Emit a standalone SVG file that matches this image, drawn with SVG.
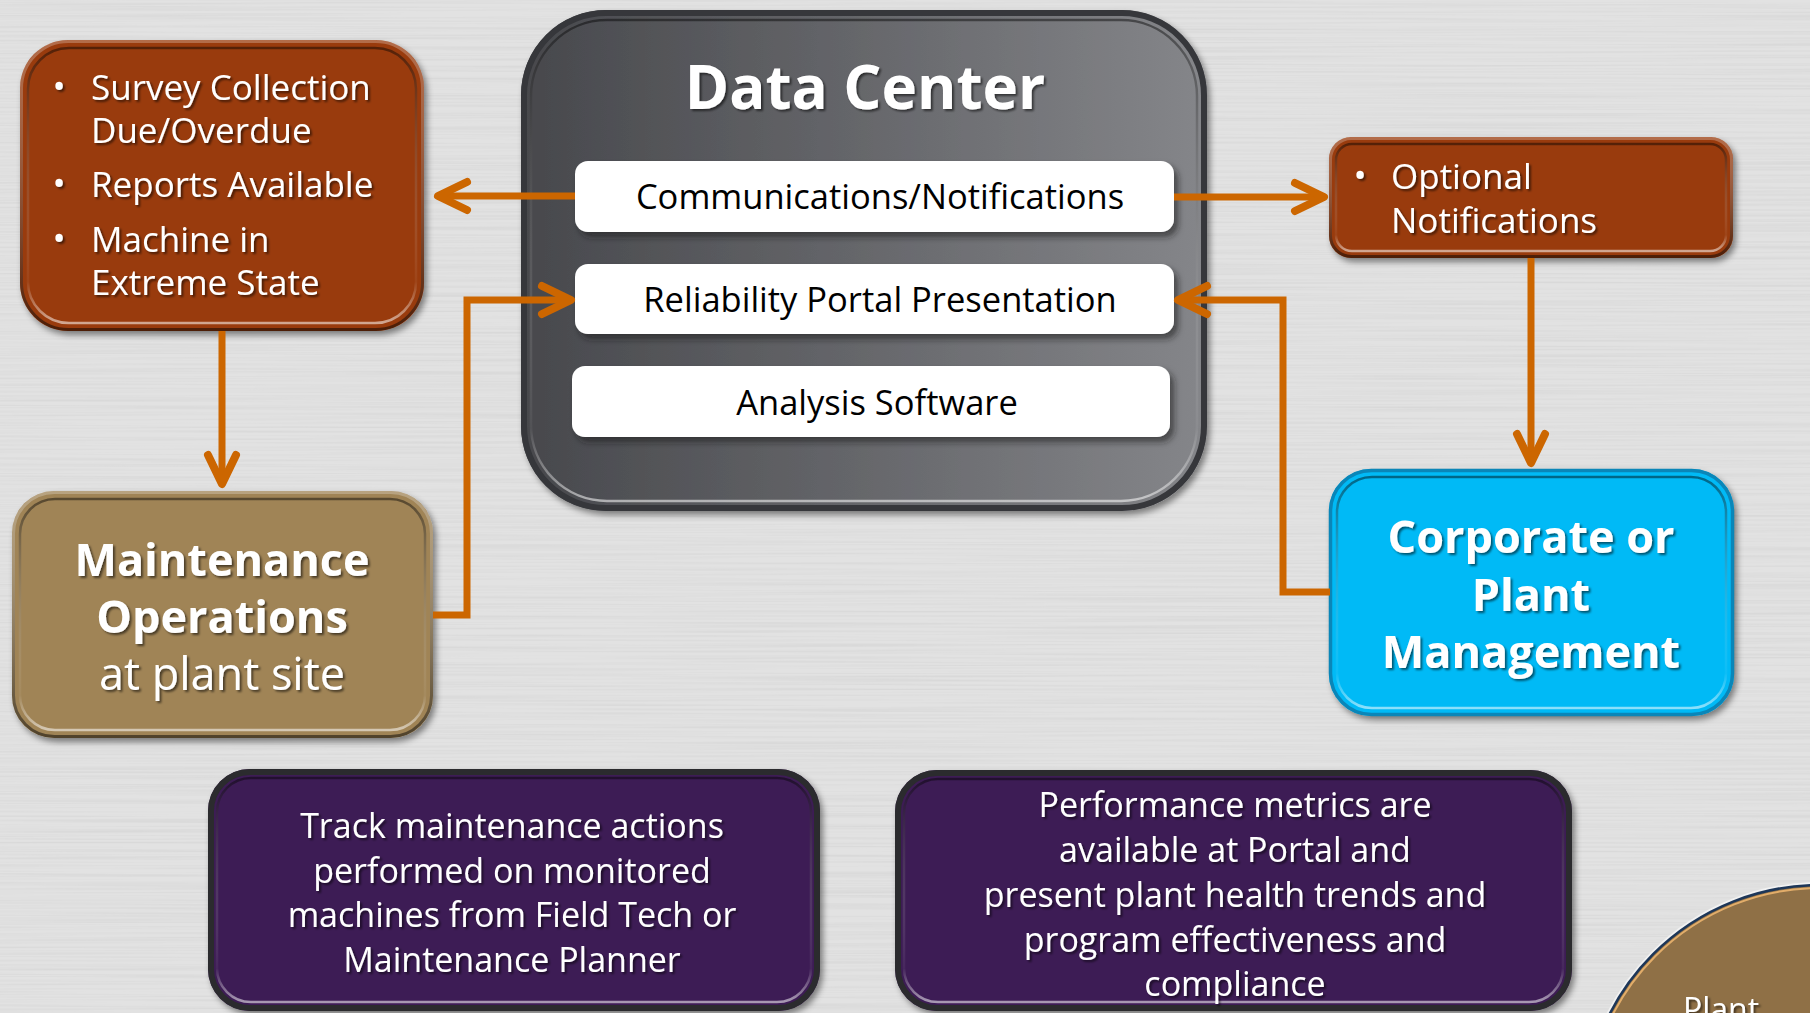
<svg xmlns="http://www.w3.org/2000/svg" width="1810" height="1013" viewBox="0 0 1810 1013">
<defs>
<style>
.t{font-family:"Open Sans","Noto Sans","DejaVu Sans",sans-serif;fill:#fff;}
.b{font-weight:bold;}
.dk{font-family:"Open Sans","Noto Sans","DejaVu Sans",sans-serif;fill:#000;font-size:34.5px;text-anchor:middle;}
.mid{text-anchor:middle;}
.conn{fill:none;stroke:#cc6600;stroke-width:7;marker-end:url(#chev);}
.wbox{fill:#fff;filter:url(#wsh);}
</style>
<filter id="brush" x="0" y="0" width="100%" height="100%">
<feTurbulence type="fractalNoise" baseFrequency="0.003 0.45" numOctaves="3" seed="7"/>
<feColorMatrix type="matrix" values="0 0 0 0 0.6  0 0 0 0 0.6  0 0 0 0 0.6  0.9 0 0 0 -0.35"/>
</filter>
<filter id="ts" x="-10%" y="-20%" width="120%" height="150%">
<feDropShadow dx="2" dy="2" stdDeviation="1.2" flood-color="#000" flood-opacity="0.55"/>
</filter>
<filter id="sh" x="-10%" y="-10%" width="125%" height="125%">
<feDropShadow dx="3" dy="4" stdDeviation="3" flood-color="#000" flood-opacity="0.45"/>
</filter>
<filter id="wsh" x="-10%" y="-20%" width="125%" height="160%">
<feDropShadow dx="4" dy="5" stdDeviation="3" flood-color="#1a1a1a" flood-opacity="0.6"/>
</filter>
<linearGradient id="dcg" x1="0" y1="0" x2="1" y2="0">
<stop offset="0" stop-color="#47484c"/>
<stop offset="1" stop-color="#85868a"/>
</linearGradient>
<linearGradient id="rimLight" x1="0" y1="0" x2="0" y2="1">
<stop offset="0" stop-color="#000" stop-opacity="0.45"/>
<stop offset="0.85" stop-color="#fff" stop-opacity="0.05"/>
<stop offset="1" stop-color="#fff" stop-opacity="0.55"/>
</linearGradient>
<linearGradient id="rimOuter" x1="0" y1="0" x2="0" y2="1">
<stop offset="0" stop-color="#fff" stop-opacity="0.25"/>
<stop offset="1" stop-color="#000" stop-opacity="0.5"/>
</linearGradient>
<marker id="chev" markerUnits="userSpaceOnUse" viewBox="-40 -22 48 44" refX="0" refY="0" markerWidth="48" markerHeight="44" orient="auto" overflow="visible">
<path d="M -29 -14 L 0 0 L -29 14" fill="none" stroke="#cc6600" stroke-width="8" stroke-linecap="round" stroke-linejoin="round"/>
</marker>
</defs>

<g id="background">
<rect x="0" y="0" width="1810" height="1013" fill="#e2e2e2"/>
<rect x="0" y="0" width="1810" height="1013" filter="url(#brush)"/>
</g>

<g id="node-alerts">
<rect x="20" y="40" width="404" height="291" rx="48" fill="#993a0b" filter="url(#sh)"/>
<rect x="21.5" y="41.5" width="401" height="288" rx="47" fill="none" stroke="url(#rimOuter)" stroke-width="3"/>
<rect x="28" y="48" width="388" height="275" rx="41" fill="none" stroke="url(#rimLight)" stroke-width="2.5"/>
<g class="t" font-size="35" filter="url(#ts)">
<text x="59" y="99" class="mid">•</text>
<text x="91" y="100">Survey Collection</text>
<text x="91" y="143">Due/Overdue</text>
<text x="59" y="196" class="mid">•</text>
<text x="91" y="197">Reports Available</text>
<text x="59" y="251" class="mid">•</text>
<text x="91" y="252">Machine in</text>
<text x="91" y="295">Extreme State</text>
</g>
</g>

<g id="node-datacenter">
<rect x="521" y="10" width="686" height="501" rx="85" fill="url(#dcg)" filter="url(#sh)"/>
<rect x="524" y="13" width="680" height="495" rx="82" fill="none" stroke="#36373b" stroke-width="6"/>
<rect x="531" y="20" width="666" height="481" rx="76" fill="none" stroke="url(#rimLight)" stroke-width="2.5"/>
<text x="865" y="109" class="t b mid" font-size="60" filter="url(#ts)">Data Center</text>
<g id="node-comm">
<rect class="wbox" x="575" y="161" width="599" height="71" rx="13"/>
<text class="dk" x="880" y="209">Communications/Notifications</text>
</g>
<g id="node-portal">
<rect class="wbox" x="575" y="264" width="599" height="70" rx="13"/>
<text class="dk" x="880" y="312">Reliability Portal Presentation</text>
</g>
<g id="node-analysis">
<rect class="wbox" x="572" y="366" width="598" height="71" rx="13"/>
<text class="dk" x="877" y="415">Analysis Software</text>
</g>
</g>

<g id="node-optional">
<rect x="1329" y="137" width="404" height="121" rx="22" fill="#993a0b" filter="url(#sh)"/>
<rect x="1330.5" y="138.5" width="401" height="118" rx="21" fill="none" stroke="url(#rimOuter)" stroke-width="3"/>
<rect x="1336" y="144" width="390" height="107" rx="16" fill="none" stroke="url(#rimLight)" stroke-width="2.5"/>
<g class="t" font-size="35" filter="url(#ts)">
<text x="1360" y="188" class="mid">•</text>
<text x="1391" y="189">Optional</text>
<text x="1391" y="233">Notifications</text>
</g>
</g>

<g id="node-maintenance">
<rect x="12" y="491" width="421" height="247" rx="42" fill="#a08456" filter="url(#sh)"/>
<rect x="13.5" y="492.5" width="418" height="244" rx="41" fill="none" stroke="url(#rimOuter)" stroke-width="3"/>
<rect x="20" y="499" width="405" height="231" rx="35" fill="none" stroke="url(#rimLight)" stroke-width="2.5"/>
<g class="t mid" font-size="45" filter="url(#ts)">
<text x="222" y="576" class="b">Maintenance</text>
<text x="222" y="633" class="b">Operations</text>
<text x="222" y="690">at plant site</text>
</g>
</g>

<g id="node-corporate">
<rect x="1329" y="469" width="405" height="247" rx="42" fill="#05baf6" filter="url(#sh)"/>
<rect x="1330.5" y="470.5" width="402" height="244" rx="41" fill="none" stroke="#0a86b8" stroke-width="3.5"/>
<rect x="1337" y="477" width="389" height="231" rx="35" fill="none" stroke="url(#rimLight)" stroke-width="2.5"/>
<g class="t b mid" font-size="45" filter="url(#ts)">
<text x="1531" y="553">Corporate or</text>
<text x="1531" y="611">Plant</text>
<text x="1531" y="668">Management</text>
</g>
</g>

<g id="node-track">
<rect x="208" y="769" width="612" height="242" rx="42" fill="#3d1c55" filter="url(#sh)"/>
<rect x="211" y="772" width="606" height="236" rx="39" fill="none" stroke="#2b2b2e" stroke-width="6"/>
<rect x="217" y="778" width="594" height="224" rx="34" fill="none" stroke="url(#rimLight)" stroke-width="2.5"/>
<g class="t mid" font-size="34" filter="url(#ts)">
<text x="512" y="838">Track maintenance actions</text>
<text x="512" y="883">performed on monitored</text>
<text x="512" y="927">machines from Field Tech or</text>
<text x="512" y="972">Maintenance Planner</text>
</g>
</g>

<g id="node-metrics">
<rect x="895" y="770" width="677" height="241" rx="42" fill="#3d1c55" filter="url(#sh)"/>
<rect x="898" y="773" width="671" height="235" rx="39" fill="none" stroke="#2b2b2e" stroke-width="6"/>
<rect x="904" y="779" width="659" height="223" rx="34" fill="none" stroke="url(#rimLight)" stroke-width="2.5"/>
<g class="t mid" font-size="34" filter="url(#ts)">
<text x="1235" y="817">Performance metrics are</text>
<text x="1235" y="862">available at Portal and</text>
<text x="1235" y="907">present plant health trends and</text>
<text x="1235" y="952">program effectiveness and</text>
<text x="1235" y="996">compliance</text>
</g>
</g>

<g id="node-plant">
<circle cx="1820" cy="1121" r="236" fill="#8f7046" stroke="#f4f4f4" stroke-width="6" opacity="0.9"/>
<circle cx="1820" cy="1121" r="236" fill="#8f7046" stroke="#1d3658" stroke-width="2.5"/>
<circle cx="1820" cy="1121" r="233" fill="none" stroke="#e2ad6a" stroke-width="2"/>
<text x="1683" y="1021" class="t" font-size="32" filter="url(#ts)">Plant</text>
</g>

<g id="connectors">
<path class="conn" d="M 575 196 L 438 196"/>
<path class="conn" d="M 1174 197 L 1324 197"/>
<path class="conn" d="M 222 331 L 222 484"/>
<path class="conn" d="M 433 615 L 467 615 L 467 300 L 571 300"/>
<path class="conn" d="M 1330 592 L 1283 592 L 1283 300 L 1178 300"/>
<path class="conn" d="M 1531 258 L 1531 463"/>
</g>
</svg>
